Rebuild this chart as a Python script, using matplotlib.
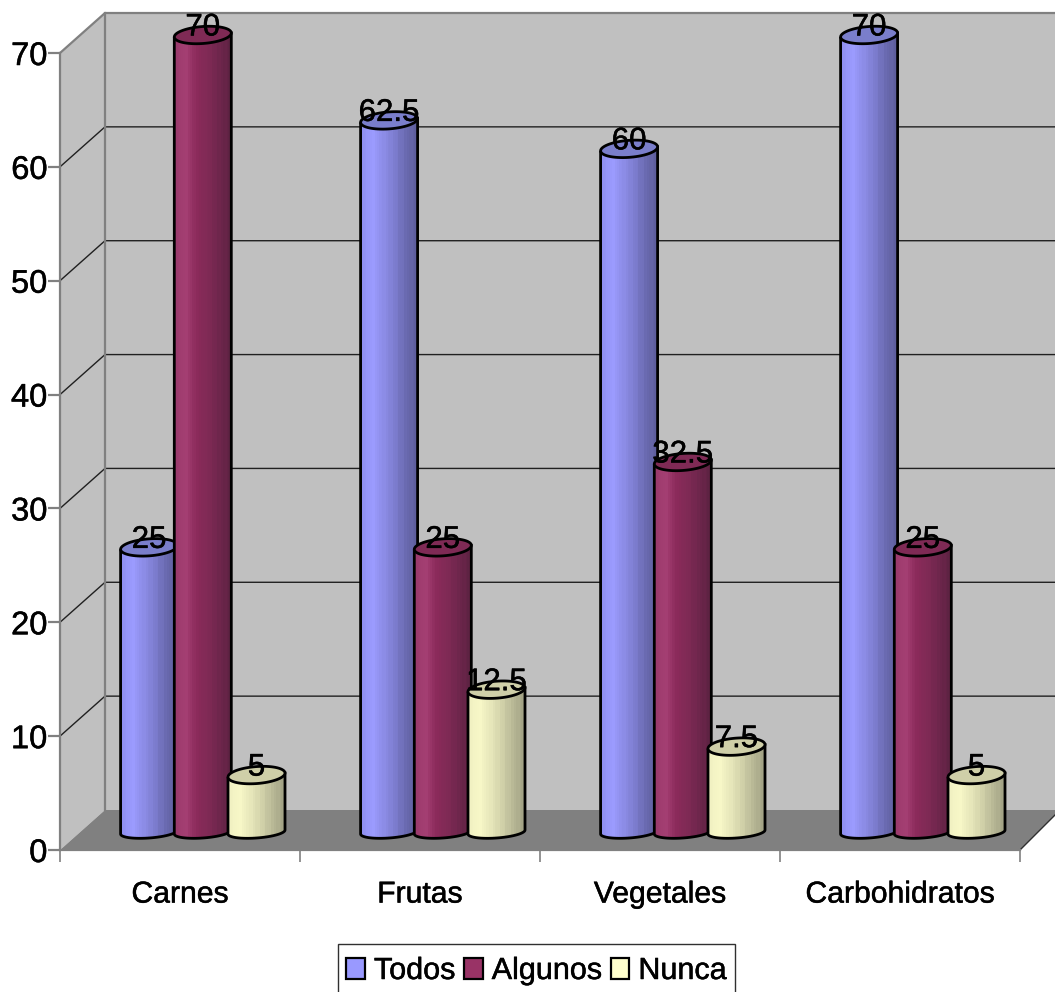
import numpy as np
import matplotlib
matplotlib.use("Agg")
import matplotlib.pyplot as plt
import matplotlib.patheffects as pe
from matplotlib.colors import LinearSegmentedColormap
from matplotlib.patches import Patch, Polygon, PathPatch, Rectangle
from matplotlib.path import Path

categories = ["Carnes", "Frutas", "Vegetales", "Carbohidratos"]
series_names = ["Todos", "Algunos", "Nunca"]
todos = [25, 62.5, 60, 70]
algunos = [70, 25, 32.5, 25]
nunca = [5, 12.5, 7.5, 5]
value_labels = {25: "25", 62.5: "62.5", 60: "60", 70: "70", 32.5: "32.5",
                5: "5", 12.5: "12.5", 7.5: "7.5"}
y_ticks = [0, 10, 20, 30, 40, 50, 60, 70]

plt.rcParams["font.family"] = ["Liberation Sans", "DejaVu Sans"]

W, H = 1055, 992
fig = plt.figure(figsize=(W / 100, H / 100), dpi=100, facecolor="white")
ax = fig.add_axes([60 / W, (H - 850) / H, 960 / W, 797 / H])
ax.set_xlim(0, 4)
ax.set_ylim(0, 70)

# Conversion of the oblique depth offset from pixels to data units
PX_X = 4 / 960
PX_Y = 70 / 797
DEPTH_X = 45 * PX_X
DEPTH_Y = 40 * PX_Y
RIGHT = 4 + 40 * PX_X

GRAY = "#808080"
WALL = "#c0c0c0"
HEAVY = [pe.withStroke(linewidth=0.35, foreground="black")]

ax.patch.set_visible(False)
for name in ("top", "right"):
    ax.spines[name].set_visible(False)
for name in ("left", "bottom"):
    ax.spines[name].set_color(GRAY)
    ax.spines[name].set_linewidth(1.6)
    ax.spines[name].set_zorder(3)

# Walls and floor of the oblique box
ax.add_patch(Polygon([(DEPTH_X, DEPTH_Y), (RIGHT, DEPTH_Y), (RIGHT, 70 + DEPTH_Y),
                      (DEPTH_X, 70 + DEPTH_Y)], fc=WALL, ec="none", clip_on=False, zorder=1))
ax.add_patch(Polygon([(0, 0), (DEPTH_X, DEPTH_Y), (DEPTH_X, 70 + DEPTH_Y), (0, 70)],
                     fc=WALL, ec="none", clip_on=False, zorder=1))
ax.add_patch(Polygon([(0, 0), (DEPTH_X, DEPTH_Y), (RIGHT, DEPTH_Y), (4, 0)],
                     fc=GRAY, ec="none", clip_on=False, zorder=1))

for y in y_ticks[1:-1]:
    ax.plot([0, DEPTH_X, RIGHT], [y, y + DEPTH_Y, y + DEPTH_Y], color="#202020",
            lw=1.0, clip_on=False, zorder=2)
ax.plot([0, DEPTH_X, RIGHT], [70, 70 + DEPTH_Y, 70 + DEPTH_Y], color=GRAY, lw=1.6,
        clip_on=False, zorder=2)
ax.plot([DEPTH_X, DEPTH_X], [DEPTH_Y, 70 + DEPTH_Y], color=GRAY, lw=1.6, zorder=2, clip_on=False)
ax.plot([4, RIGHT], [0, DEPTH_Y], color="#303030", lw=1.0, clip_on=False, zorder=2)

ax.set_yticks(y_ticks)
ax.set_xticks(range(5))
ax.set_xticklabels([])
ax.set_xticks([0.5, 1.5, 2.5, 3.5], labels=categories, minor=True)
ax.tick_params(axis="y", length=8.6, width=1.6, color=GRAY, labelsize=23.5, pad=0.5)
ax.tick_params(axis="x", which="major", length=8.6, width=1.2, color=GRAY)
ax.tick_params(axis="x", which="minor", length=0, labelsize=21.7, pad=22)
for label in ax.get_yticklabels() + ax.get_xticklabels(minor=True):
    label.set_path_effects(HEAVY)

# Cylinders: geometry in data units
BAR_STEP = 53.7 * PX_X
HALF_W = 28.5 * PX_X
TOP_H = 8.5 * PX_Y
BASE_H = 6.0 * PX_Y
TILT = 2.0 * PX_Y
OFFSET_X = 22.8 * PX_X
BASE_Y = 18 * PX_Y


def ellipse(cx, cy, t, half_h):
    return (cx + HALF_W * np.cos(t),
            cy + half_h * np.sin(t) + TILT * np.cos(t))


# Base shading stops plus the fine vertical streaks of the cylinder surface
styles = [
    (["#8f8ff0", "#9c9cff", "#8c8ce6", "#7d7dcf", "#6a6ab0", "#5f5f9e"], "#7a7ecb"),
    (["#9a3a6c", "#a53f73", "#8a2a5a", "#7f2a55", "#6e264c", "#5e2343"], "#7f2a55"),
    (["#f0f0c2", "#f8f8c8", "#e6e6ba", "#d2d2aa", "#b8b896", "#a3a385"], "#cfcfa8"),
]
streaks = np.array([0, 0, 0, 1, 0, 0, 0, -1, 0, 0, 1, 0, 0, -1, 0, 1, 0, -1, 1, 0, -1, 1,
                    0, -1, 1, -1, 0, 1, -1, 0, 1, -1]) * 0.018
tops = np.linspace(0, 2 * np.pi, 90)
bottom_arc = np.linspace(np.pi, 2 * np.pi, 50)

for k, values in enumerate([todos, algunos, nunca]):
    stops, top_color = styles[k]
    cmap = LinearSegmentedColormap.from_list(series_names[k], stops)
    shade = np.clip(np.linspace(0, 1, streaks.size) + streaks, 0, 1)
    for i, v in enumerate(values):
        cx = i + 0.5 + (k - 1) * BAR_STEP + OFFSET_X
        top_y = BASE_Y + v
        z = 5 + k * 0.1

        bx, by = ellipse(cx, BASE_Y, bottom_arc, BASE_H)
        lx, ly = ellipse(cx, top_y, np.array([np.pi]), TOP_H)
        rx, ry = ellipse(cx, top_y, np.array([0.0]), TOP_H)
        outline = np.column_stack([np.r_[lx, bx, rx, lx], np.r_[ly, by, ry, ly]])
        ax.add_patch(PathPatch(Path(outline), fc="none", ec="black", lw=2.0,
                               clip_on=False, zorder=z + 0.02))

        img = ax.imshow(shade[None, :], cmap=cmap, vmin=0, vmax=1, aspect="auto",
                        interpolation="nearest",
                        extent=[cx - HALF_W, cx + HALF_W, BASE_Y - 2, top_y + 2],
                        zorder=z + 0.01)
        img.set_clip_box(fig.bbox)
        img.set_clip_path(Path(outline), ax.transData)

        ex, ey = ellipse(cx, top_y, tops, TOP_H)
        ax.add_patch(Polygon(np.column_stack([ex, ey]), fc=top_color, ec="black", lw=2.0,
                             clip_on=False, zorder=z + 0.03))
        ax.text(cx, top_y + 7.5 * PX_Y, value_labels[v], ha="center", va="center",
                fontsize=22.5, color="black", zorder=8, clip_on=False, path_effects=HEAVY)

ax.set_xlim(0, 4)
ax.set_ylim(0, 70)

# Legend frame runs past the bottom edge of the figure
fig.add_artist(Rectangle((338 / W, -0.01), 397 / W, (H - 943.5) / H + 0.01,
                         transform=fig.transFigure, fc="white", ec="#303030", lw=1.0))
handles = [Patch(fc=c, ec="black", lw=1.6) for c in ("#9999ff", "#993366", "#ffffcc")]
leg = fig.legend(handles, series_names, loc="center",
                 bbox_to_anchor=(536.5 / W, (H - 971) / H),
                 ncol=3, fontsize=22, frameon=False,
                 handlelength=0.6, handleheight=0.68, handletextpad=0.3,
                 columnspacing=0.3, borderpad=0, borderaxespad=0)
for t in leg.get_texts():
    t.set_path_effects(HEAVY)

fig.savefig("out.png", dpi=100)
